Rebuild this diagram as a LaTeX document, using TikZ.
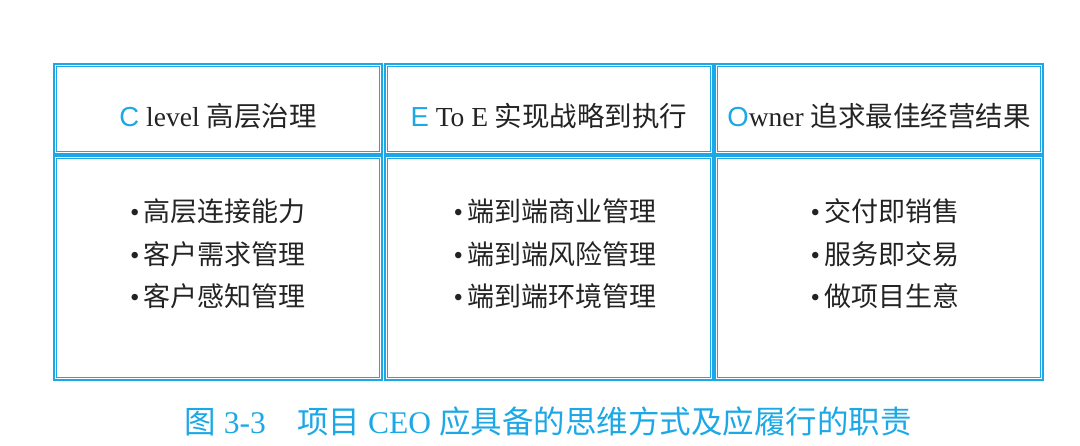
\documentclass[tikz,border=0pt]{standalone}
\usepackage{fontspec}
\setmainfont{Liberation Serif}
\newfontfamily\cjk{Noto Sans CJK SC}
\newfontfamily\initfont{Liberation Sans}
\definecolor{ceoblue}{RGB}{28,168,230}
\definecolor{ink}{RGB}{35,35,35}
\newcommand{\zh}[1]{{\cjk #1}}
\newcommand{\initial}[1]{{\initfont\color{ceoblue}#1}}

\begin{document}
\begin{tikzpicture}[x=1pt, y=-1pt,
	cell/.style={draw=ceoblue, line width=1.8pt, minimum width=328pt, inner sep=0pt},
	head/.style={cell, minimum height=90pt},
	body/.style={cell, minimum height=224pt},
	label/.style={text=ink, font=\fontsize{27.5}{42}\selectfont, align=left},
	item/.style={text=ink, font=\fontsize{27}{42.5}\selectfont, align=left}]
		\useasboundingbox (0,0) rectangle (1080,446);
		% header row
		\node[head] (h1) at (218,109){};
		\node[head] (h2) at (549,109){};
		\node[head] (h3) at (879,109){};
		% body row
		\node[body] (b1) at (218,268){};
		\node[body] (b2) at (549,268){};
		\node[body] (b3) at (879,268){};
		% inner frame lines
		\foreach \c in {h1,h2,h3,b1,b2,b3}
			\draw[ceoblue, line width=1pt] ([xshift=3.5pt, yshift=-3.5pt]\c.north west) rectangle ([xshift=-3.5pt, yshift=3.5pt]\c.south east);
		% titles
		\node[label] (t1) at (h1.center) [yshift=-7pt]{\initial{C} level \zh{高层治理}};
		\node[label] (t2) at (h2.center) [yshift=-7pt]{\initial{E} To E \zh{实现战略到执行}};
		\node[label] (t3) at (h3.center) [yshift=-7pt]{\initial{O}wner \zh{追求最佳经营结果}};
		% items
		\node[item] (l1) at (b1.center) [yshift=14pt]{•\,\zh{高层连接能力}\\•\,\zh{客户需求管理}\\•\,\zh{客户感知管理}};
		\node[item] (l2) at (b2.center) [xshift=6pt, yshift=14pt]{•\,\zh{端到端商业管理}\\•\,\zh{端到端风险管理}\\•\,\zh{端到端环境管理}};
		\node[item] (l3) at (b3.center) [xshift=6pt, yshift=14pt]{•\,\zh{交付即销售}\\•\,\zh{服务即交易}\\•\,\zh{做项目生意}};
		% caption
		\node[text=ceoblue, font=\fontsize{31.5}{36}\selectfont] (cap) at (548,422){\zh{图} 3-3\quad\zh{项目} CEO \zh{应具备的思维方式及应履行的职责}};
		\end{tikzpicture}
\end{document}
